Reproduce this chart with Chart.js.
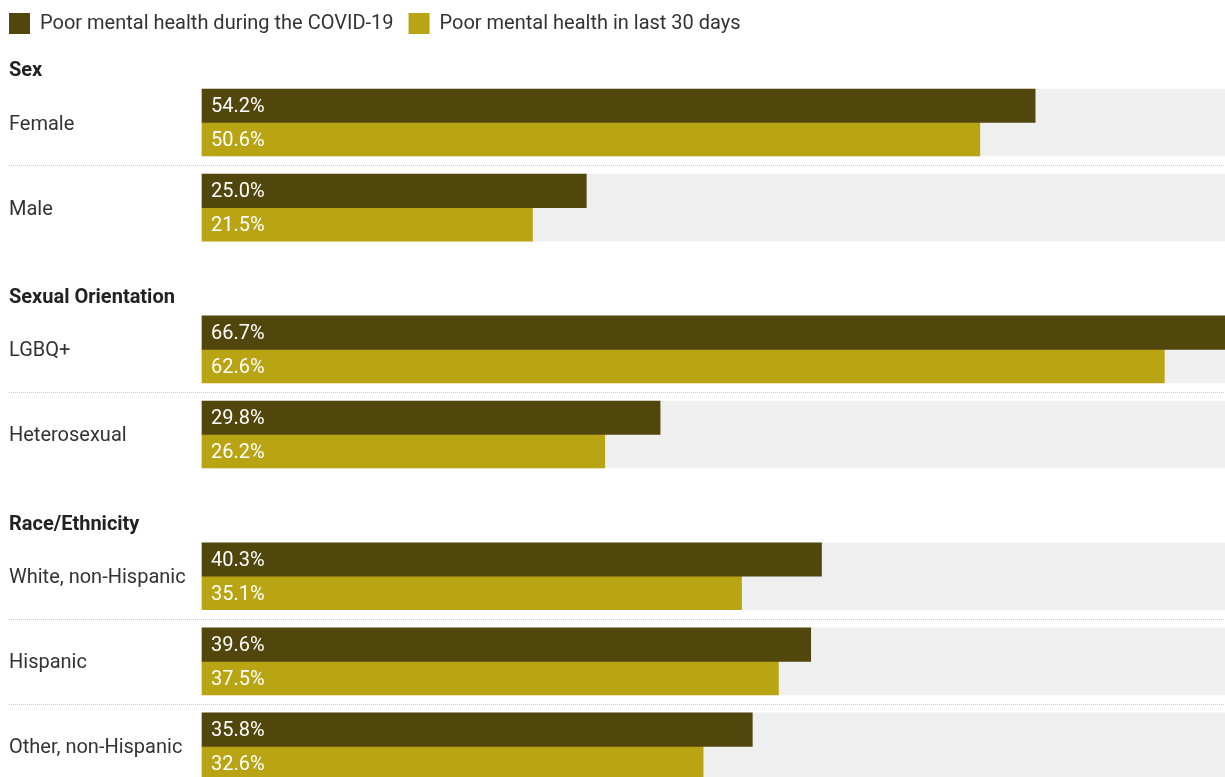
<!DOCTYPE html>
<html>
<head>
<meta charset="utf-8">
<script src="https://cdn.jsdelivr.net/npm/chart.js@4.4.0/dist/chart.umd.min.js"></script>
<style>
  html, body { margin: 0; padding: 0; background: #fff; }
  #wrap { width: 1225px; height: 777px; position: relative; }
</style>
</head>
<body>
<div id="wrap"><canvas id="chart"></canvas></div>
<script>
/* ============================ Data ============================ */
const groups = ["Sex", "Sexual Orientation", "Race/Ethnicity"];
const categories = ["Female", "Male", "LGBQ+", "Heterosexual", "White, non-Hispanic", "Hispanic", "Other, non-Hispanic"];
const categoryGroup = [0, 0, 1, 1, 2, 2, 2];
const seriesNames = ["Poor mental health during the COVID-19", "Poor mental health in last 30 days"];
const covidValues = [54.2, 25.0, 66.7, 29.8, 40.3, 39.6, 35.8];
const last30Values = [50.6, 21.5, 62.6, 26.2, 35.1, 37.5, 32.6];

/* ============================ Layout ============================ */
const xMax = 66.55;
const unitPx = 28.36;      // pixels per slot on the y axis
const firstRowPx = 122.5;  // centre of the first row pair
const rowStep = 3;         // slots between rows of one group
const groupGap = 2;        // extra slots before a new group
const headingLift = 1.885; // group title sits this far above its first row
const FONT = "Roboto";
const DARK = "#51460c";
const LIGHT = "#b9a513";

const rowPos = [];
categories.forEach((c, i) => {
    if (i === 0) rowPos.push(0);
    else rowPos.push(rowPos[i - 1] + rowStep + (categoryGroup[i] !== categoryGroup[i - 1] ? groupGap : 0));
});
const headingPos = groups.map((g, gi) => rowPos[categoryGroup.indexOf(gi)] - headingLift);

function findLabel(v) {
    let i = headingPos.findIndex(p => Math.abs(p - v) < 1e-6);
    if (i >= 0) return { text: groups[i], heading: true };
    i = rowPos.findIndex(p => Math.abs(p - v) < 1e-6);
    if (i >= 0) return { text: categories[i], heading: false };
    return { text: "", heading: false };
}
const isHeading = ctx => !!(ctx.tick && findLabel(ctx.tick.value).heading);

const toPoints = vals => vals.map((v, i) => ({ x: v, y: rowPos[i] }));

/* ============================ Plugins ============================ */
// dotted rules between rows of the same group
const separators = {
    id: "separators",
    beforeDatasetsDraw(chart) {
        const ys = chart.scales.y;
        const ctx = chart.ctx;
        ctx.save();
        ctx.strokeStyle = "#cccccc";
        ctx.lineWidth = 1;
        ctx.setLineDash([1, 1]);
        for (let i = 0; i < categories.length - 1; i++) {
            if (categoryGroup[i] !== categoryGroup[i + 1]) continue;
            const y = Math.round((ys.getPixelForValue(rowPos[i]) + ys.getPixelForValue(rowPos[i + 1])) / 2) + 0.5;
            ctx.beginPath();
            ctx.moveTo(9, y);
            ctx.lineTo(chart.width, y);
            ctx.stroke();
        }
        ctx.restore();
    }
};

// value labels inside the bars
const valueLabels = {
    id: "valueLabels",
    afterDatasetsDraw(chart) {
        const ctx = chart.ctx;
        ctx.save();
        ctx.fillStyle = "#ffffff";
        ctx.font = `20px ${FONT}`;
        ctx.textAlign = "left";
        ctx.textBaseline = "middle";
        [0, 1].forEach(di => {
            const meta = chart.getDatasetMeta(di);
            meta.data.forEach((bar, i) => {
                const v = chart.data.datasets[di].data[i].x;
                ctx.fillText(v.toFixed(1) + "%", bar.base + 9, bar.y + 1.5);
            });
        });
        ctx.restore();
    }
};

/* ============================ Chart ============================ */
const chart = new Chart(document.getElementById("chart"), {
    type: "bar",
    data: {
        datasets: [
            { label: seriesNames[0], data: toPoints(covidValues), backgroundColor: DARK, barThickness: 33.5, clip: false, xAxisID: "x", yAxisID: "y" },
            { label: seriesNames[1], data: toPoints(last30Values), backgroundColor: LIGHT, barThickness: 33.5, clip: false, xAxisID: "x", yAxisID: "y" },
            // grey track behind each pair
            { label: "track", data: rowPos.map(p => ({ x: xMax, y: p })), backgroundColor: "#efefef", barThickness: 67, grouped: false, clip: false, xAxisID: "x", yAxisID: "y" }
        ]
    },
    options: {
        indexAxis: "y",
        responsive: true,
        maintainAspectRatio: false,
        animation: false,
        layout: { padding: { left: -6, top: -2, right: 0, bottom: 0 } },
        plugins: {
            legend: {
                position: "top",
                align: "start",
                labels: {
                    filter: item => item.datasetIndex < 2,
                    boxWidth: 21,
                    boxHeight: 21,
                    padding: 15,
                    color: "#333333",
                    font: { family: FONT, size: 20 }
                }
            },
            tooltip: { enabled: false }
        },
        scales: {
            x: { type: "linear", min: 0, max: xMax, display: false },
            pad: {
                type: "linear", position: "left", weight: 10,
                ticks: { display: false }, grid: { display: false }, border: { display: false },
                afterFit: s => { s.width = 15; }
            },
            y: {
                type: "linear",
                position: "left",
                reverse: true,
                offset: false,
                bounds: "data",
                min: -3,
                max: 23,
                grid: { display: false, offset: false },
                border: { display: false },
                afterBuildTicks: s => {
                    s.ticks = headingPos.concat(rowPos).map(v => ({ value: v }));
                },
                afterFit: s => { s.width = 193; },
                ticks: {
                    crossAlign: "far",
                    autoSkip: false,
                    labelOffset: 2,
                    callback: v => findLabel(v).text,
                    color: ctx => isHeading(ctx) ? "#222222" : "#333333",
                    font: ctx => isHeading(ctx)
                        ? { family: FONT, size: 20, weight: "bold" }
                        : { family: FONT, size: 20 }
                }
            }
        }
    },
    plugins: [separators, valueLabels]
});

// fix the y range so one slot is unitPx tall and the first row lands at firstRowPx
const area = chart.chartArea;
const yMin = -(firstRowPx - area.top) / unitPx;
chart.options.scales.y.min = yMin;
chart.options.scales.y.max = yMin + (area.bottom - area.top) / unitPx;
chart.update();
</script>
</body>
</html>
